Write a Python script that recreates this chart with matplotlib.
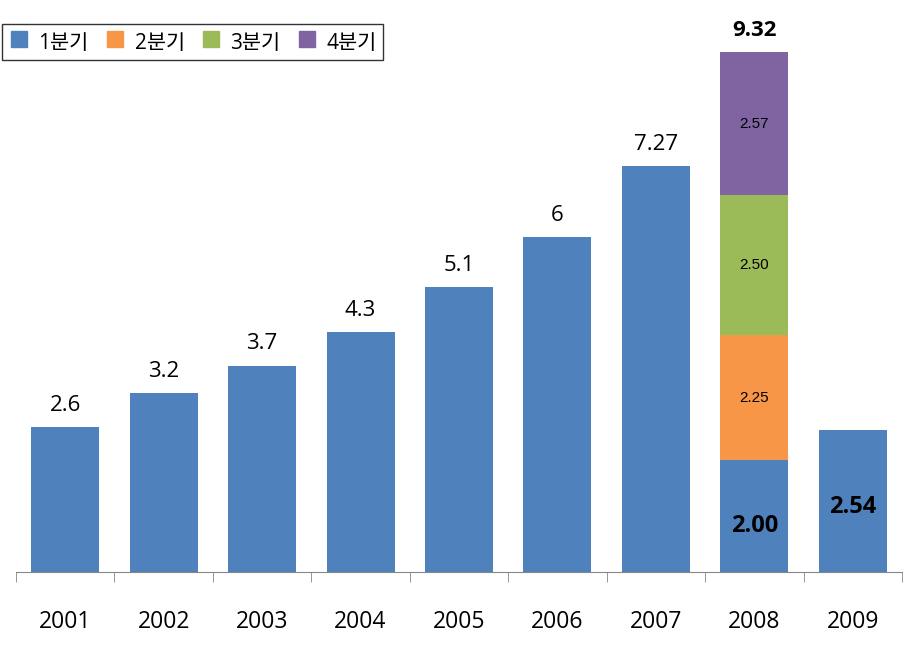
import matplotlib.pyplot as plt
from matplotlib.lines import Line2D
import numpy as np

plt.rcParams['font.family'] = ['Open Sans', 'Noto Sans CJK KR', 'DejaVu Sans']

years = ['2001', '2002', '2003', '2004', '2005', '2006', '2007', '2008', '2009']
q1 = [2.6, 3.2, 3.7, 4.3, 5.1, 6, 7.27, 2.00, 2.54]
q2 = [0, 0, 0, 0, 0, 0, 0, 2.25, 0]
q3 = [0, 0, 0, 0, 0, 0, 0, 2.50, 0]
q4 = [0, 0, 0, 0, 0, 0, 0, 2.57, 0]
top_labels = ['2.6', '3.2', '3.7', '4.3', '5.1', '6', '7.27', '9.32', '']
series_names = ['1분기', '2분기', '3분기', '4분기']
colors = ['#4F81BD', '#F79646', '#9BBB59', '#8064A2']

fig = plt.figure(figsize=(9.18, 6.55), dpi=100)
ax = fig.add_axes([16 / 918, 83 / 655, 886 / 918, 572 / 655])

x = np.arange(len(years))
w = 0.69
bottom = np.zeros(len(years))
for vals, c in zip([q1, q2, q3, q4], colors):
    vals = np.array(vals)
    ax.bar(x, vals, w, bottom=bottom, color=c, linewidth=0)
    bottom = bottom + vals

ax.set_xlim(-0.5, len(years) - 0.5)
ax.set_ylim(0, 10.25)

# labels above the bars
for i in range(len(years)):
    if top_labels[i] == '':
        continue
    bold = years[i] == '2008'
    ax.annotate(top_labels[i], (x[i], bottom[i]), xytext=(0, 8), textcoords='offset points',
                ha='center', va='bottom', fontsize=16,
                fontweight='bold' if bold else 'normal')

# labels inside the 2008 stack and 2009
i8 = years.index('2008')
base = 0
for vals in [q1, q2, q3, q4]:
    v = vals[i8]
    if vals is q1:
        ax.text(x[i8], base + v / 2 - 0.17, f'{v:.2f}', ha='center', va='center',
                fontsize=17, fontweight='bold')
    else:
        ax.text(x[i8], base + v / 2, f'{v:.2f}', ha='center', va='center',
                fontsize=11, family='Liberation Sans')
    base += v
i9 = years.index('2009')
ax.text(x[i9], q1[i9] / 2 - 0.1, f'{q1[i9]:.2f}', ha='center', va='center',
        fontsize=17, fontweight='bold')

for s in ['top', 'right', 'left']:
    ax.spines[s].set_visible(False)
ax.spines['bottom'].set_color('#868686')
ax.set_yticks([])
ax.set_xticks(x)
ax.set_xticklabels(years, fontsize=16.5)
ax.tick_params(axis='x', which='major', length=0, pad=27)
ax.set_xticks(np.arange(-0.5, len(years)), minor=True)
ax.tick_params(axis='x', which='minor', length=7, color='#868686')

handles = [Line2D([], [], marker='s', linestyle='', markersize=11, color=c) for c in colors]
leg = fig.legend(handles, series_names, loc='upper left', ncol=4,
                 bbox_to_anchor=(2 / 918, 1 - 24 / 655), borderaxespad=0,
                 fontsize=15, frameon=True, fancybox=False, edgecolor='black',
                 handletextpad=0.45, columnspacing=0.75, handlelength=1.0,
                 handleheight=1.3, borderpad=0.3)
leg.get_frame().set_linewidth(1.0)

fig.savefig('out.png', dpi=100)
